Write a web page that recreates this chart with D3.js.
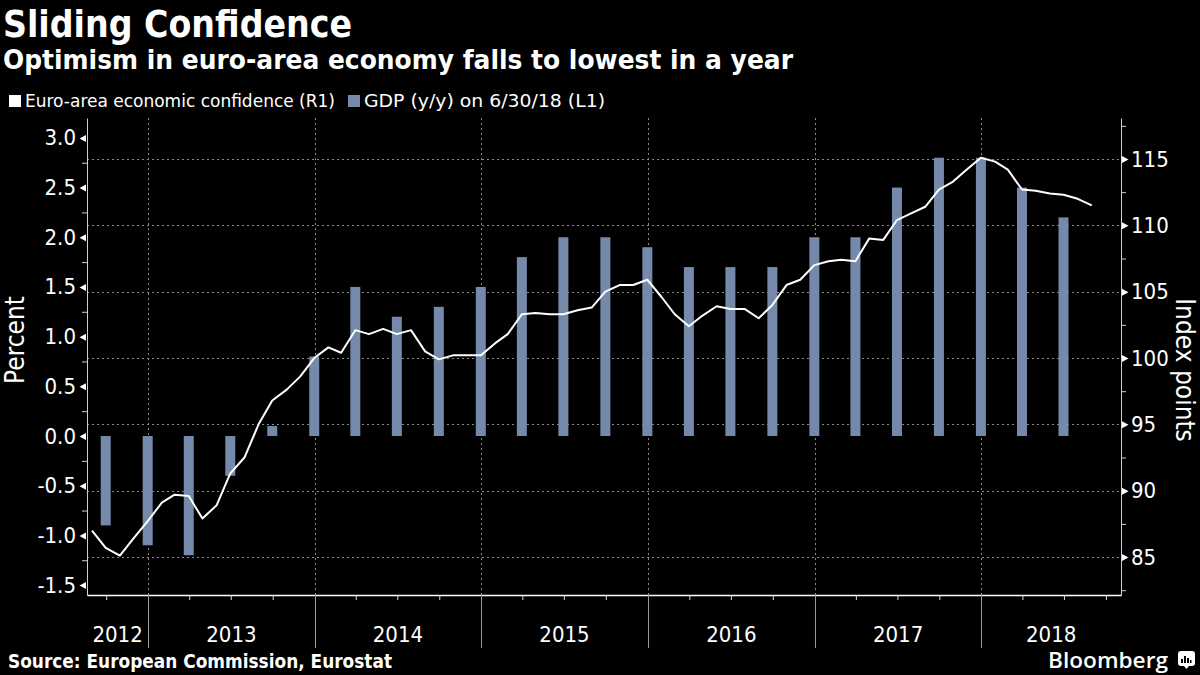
<!DOCTYPE html>
<html><head><meta charset="utf-8">
<script src="https://cdn.jsdelivr.net/npm/d3@7/dist/d3.min.js"></script>
<style>html,body{margin:0;padding:0;background:#000;}svg{display:block;}</style>
</head><body>
<svg id="chart" width="1200" height="675"></svg>
<script>
// ---------------- DATA ----------------
const confMonths = [
 "2012-08","2012-09","2012-10","2012-11","2012-12",
 "2013-01","2013-02","2013-03","2013-04","2013-05","2013-06","2013-07","2013-08","2013-09","2013-10","2013-11","2013-12",
 "2014-01","2014-02","2014-03","2014-04","2014-05","2014-06","2014-07","2014-08","2014-09","2014-10","2014-11","2014-12",
 "2015-01","2015-02","2015-03","2015-04","2015-05","2015-06","2015-07","2015-08","2015-09","2015-10","2015-11","2015-12",
 "2016-01","2016-02","2016-03","2016-04","2016-05","2016-06","2016-07","2016-08","2016-09","2016-10","2016-11","2016-12",
 "2017-01","2017-02","2017-03","2017-04","2017-05","2017-06","2017-07","2017-08","2017-09","2017-10","2017-11","2017-12",
 "2018-01","2018-02","2018-03","2018-04","2018-05","2018-06","2018-07","2018-08"
];
const confValues = [
 87.0, 85.7, 85.1, 86.4, 87.7,
 89.1, 89.7, 89.6, 87.9, 88.9, 91.3, 92.5, 95.0, 96.8, 97.6, 98.6, 100.0,
 100.8, 100.4, 102.1, 101.8, 102.2, 101.8, 102.1, 100.5, 99.9, 100.2, 100.2, 100.2,
 101.1, 101.8, 103.3, 103.4, 103.3, 103.3, 103.6, 103.8, 105.0, 105.5, 105.5, 105.9,
 104.6, 103.3, 102.4, 103.2, 103.9, 103.7, 103.7, 103.0, 104.0, 105.5, 105.9, 107.0,
 107.3, 107.4, 107.3, 109.0, 108.9, 110.4, 110.9, 111.4, 112.7, 113.3, 114.2, 115.1,
 114.8, 114.2, 112.7, 112.6, 112.4, 112.3, 112.0, 111.5
];
const gdpQuarters = [
 "2012-09-30","2012-12-31",
 "2013-03-31","2013-06-30","2013-09-30","2013-12-31",
 "2014-03-31","2014-06-30","2014-09-30","2014-12-31",
 "2015-03-31","2015-06-30","2015-09-30","2015-12-31",
 "2016-03-31","2016-06-30","2016-09-30","2016-12-31",
 "2017-03-31","2017-06-30","2017-09-30","2017-12-31",
 "2018-03-31","2018-06-30"
];
const gdpValues = [
 -0.9, -1.1,
 -1.2, -0.4, 0.1, 0.8,
 1.5, 1.2, 1.3, 1.5,
 1.8, 2.0, 2.0, 1.9,
 1.7, 1.7, 1.7, 2.0,
 2.0, 2.5, 2.8, 2.8,
 2.5, 2.2
];
const leftTicks = [-1.5, -1.0, -0.5, 0.0, 0.5, 1.0, 1.5, 2.0, 2.5, 3.0];
const leftMinorTicks = [-1.25, -0.75, -0.25, 0.25, 0.75, 1.25, 1.75, 2.25, 2.75];
const rightTicks = [85, 90, 95, 100, 105, 110, 115];
const rightMinorTicks = [82.5, 87.5, 92.5, 97.5, 102.5, 107.5, 112.5, 117.5];
const yearLabels = ["2012","2013","2014","2015","2016","2017","2018"];
const xDomain = ["2012-08-20", "2018-11-03"];

const titleText = "Sliding Confidence";
const subtitleText = "Optimism in euro-area economy falls to lowest in a year";
const legendLine = "Euro-area economic confidence (R1)";
const legendBar = "GDP (y/y) on 6/30/18 (L1)";
const leftTitle = "Percent";
const rightTitle = "Index points";
const sourceText = "Source: European Commission, Eurostat";

// ---------------- SETUP ----------------
const FONT = "'Liberation Sans Narrow','DejaVu Sans Condensed','Roboto Condensed','Liberation Sans',sans-serif";
const BAR = "#7589ab";
const svg = d3.select("#chart");
svg.append("rect").attr("width",1200).attr("height",675).attr("fill","#000");

const M = {left: 87, right: 1121, top: 118, bottom: 595};
const parseDay = d3.timeParse("%Y-%m-%d");
const parseMonth = d3.timeParse("%Y-%m");
const monthEnd = s => d3.timeDay.offset(d3.timeMonth.offset(parseMonth(s), 1), -1);

const x = d3.scaleTime().domain(xDomain.map(parseDay)).range([M.left, M.right]);
const yL = d3.scaleLinear().domain([-1.6, 3.2]).range([M.bottom, M.top]);
const yR = d3.scaleLinear().domain([82.14, 118.09]).range([M.bottom, M.top]);

const confData = confMonths.map((m,i)=>({date: monthEnd(m), v: confValues[i]}));
const gdpData = gdpQuarters.map((q,i)=>({date: parseDay(q), v: gdpValues[i]}));
const yearStarts = yearLabels.map(y => new Date(+y, 0, 1));

// ---------------- GRID ----------------
const grid = svg.append("g");
grid.selectAll("line.h").data(rightTicks).join("line")
  .attr("x1", M.left).attr("x2", M.right)
  .attr("y1", d=>Math.round(yR(d))+0.5).attr("y2", d=>Math.round(yR(d))+0.5)
  .attr("stroke","#8a8a8a").attr("stroke-width",1).attr("stroke-dasharray","2,3");
grid.selectAll("line.v").data(yearStarts.slice(1)).join("line")
  .attr("x1", d=>Math.round(x(d))+0.5).attr("x2", d=>Math.round(x(d))+0.5)
  .attr("y1", M.top).attr("y2", M.bottom)
  .attr("stroke","#8a8a8a").attr("stroke-width",1).attr("stroke-dasharray","2,3");

// ---------------- BARS ----------------
const bw = 10;
svg.append("g").selectAll("rect").data(gdpData).join("rect")
  .attr("x", d=>x(d.date)-bw/2).attr("width", bw)
  .attr("y", d=>Math.min(yL(d.v), yL(0)))
  .attr("height", d=>Math.abs(yL(d.v)-yL(0)))
  .attr("fill", BAR);

// ---------------- LINE ----------------
svg.append("path").datum(confData)
  .attr("fill","none").attr("stroke","#fff").attr("stroke-width",2)
  .attr("stroke-linejoin","round")
  .attr("d", d3.line().x(d=>x(d.date)).y(d=>yR(d.v)));

// ---------------- AXES ----------------
// left
const gL = svg.append("g").attr("transform",`translate(${M.left},0)`)
  .call(d3.axisLeft(yL).tickValues(leftTicks).tickSize(0).tickSizeOuter(0).tickPadding(11)
    .tickFormat(v=>v.toFixed(1)));
gL.select(".domain").attr("stroke","#cfcfcf");
gL.selectAll(".tick text").attr("fill","#fff").attr("font-family",FONT).attr("font-size",22);
gL.selectAll(".tick").append("path").attr("d","M-1,-3.5L-1,3.5L-7.5,0Z").attr("fill","#fff");
const gLm = svg.append("g").attr("transform",`translate(${M.left},0)`)
  .call(d3.axisLeft(yL).tickValues(leftMinorTicks).tickSize(5).tickSizeOuter(0).tickFormat(""));
gLm.select(".domain").remove();
gLm.selectAll(".tick line").attr("stroke","#cfcfcf");

// right
const gR = svg.append("g").attr("transform",`translate(${M.right},0)`)
  .call(d3.axisRight(yR).tickValues(rightTicks).tickSize(0).tickSizeOuter(0).tickPadding(10)
    .tickFormat(d3.format("d")));
gR.select(".domain").attr("stroke","#cfcfcf");
gR.selectAll(".tick text").attr("fill","#fff").attr("font-family",FONT).attr("font-size",22);
gR.selectAll(".tick").append("path").attr("d","M1,-3.5L1,3.5L7.5,0Z").attr("fill","#fff");
const gRm = svg.append("g").attr("transform",`translate(${M.right},0)`)
  .call(d3.axisRight(yR).tickValues(rightMinorTicks).tickSize(5).tickSizeOuter(0).tickFormat(""));
gRm.select(".domain").remove();
gRm.selectAll(".tick line").attr("stroke","#cfcfcf");

// bottom
const quarterTicks = d3.timeMonth.every(3).range(x.domain()[0], x.domain()[1]).filter(d=>d.getMonth()!==0);
const gB = svg.append("g").attr("transform",`translate(0,${M.bottom})`)
  .call(d3.axisBottom(x).tickValues(quarterTicks).tickSize(5).tickSizeOuter(0).tickFormat(""));
gB.select(".domain").attr("stroke","#fff").attr("stroke-width",1.5);
gB.selectAll(".tick line").attr("stroke","#ddd");
// year separators
svg.append("g").selectAll("line").data(yearStarts.slice(1)).join("line")
  .attr("x1", d=>Math.round(x(d))+0.5).attr("x2", d=>Math.round(x(d))+0.5)
  .attr("y1", M.bottom).attr("y2", 648)
  .attr("stroke","#9a9a9a").attr("stroke-width",1);
// year labels
svg.append("g").selectAll("text").data(yearLabels).join("text")
  .attr("x", (d,i)=>{
     const a = Math.max(x(new Date(+d,0,1)), M.left);
     const b = Math.min(x(new Date(+d+1,0,1)), M.right);
     return (a+b)/2;
  })
  .attr("y", 642).attr("text-anchor","middle")
  .attr("fill","#fff").attr("font-family",FONT).attr("font-size",22)
  .text(d=>d);

// axis titles
svg.append("text").attr("transform","translate(24,340) rotate(-90)")
  .attr("text-anchor","middle").attr("fill","#fff").attr("font-family",FONT).attr("font-size",26)
  .text(leftTitle);
svg.append("text").attr("transform","translate(1176,370) rotate(90)")
  .attr("text-anchor","middle").attr("fill","#fff").attr("font-family",FONT).attr("font-size",26)
  .text(rightTitle);

// ---------------- TITLES ----------------
function fit(sel, w){ sel.attr("textLength", w).attr("lengthAdjust","spacingAndGlyphs"); return sel; }
fit(svg.append("text").attr("x",3).attr("y",37).attr("fill","#fff")
  .attr("font-family",FONT).attr("font-weight","bold").attr("font-size",38).text(titleText), 349);
fit(svg.append("text").attr("x",3).attr("y",69).attr("fill","#fff")
  .attr("font-family",FONT).attr("font-weight","bold").attr("font-size",26).text(subtitleText), 790);

// legend
svg.append("rect").attr("x",9).attr("y",95).attr("width",12).attr("height",12).attr("fill","#fff");
fit(svg.append("text").attr("x",25).attr("y",107).attr("fill","#fff")
  .attr("font-family",FONT).attr("font-size",18).text(legendLine), 310);
svg.append("rect").attr("x",348).attr("y",95).attr("width",12).attr("height",12).attr("fill",BAR);
fit(svg.append("text").attr("x",364).attr("y",107).attr("fill","#fff")
  .attr("font-family",FONT).attr("font-size",18).text(legendBar), 241);

// footer
fit(svg.append("text").attr("x",8).attr("y",668).attr("fill","#fff")
  .attr("font-family",FONT).attr("font-weight","bold").attr("font-size",19).text(sourceText), 384);
fit(svg.append("text").attr("x",1048).attr("y",668).attr("fill","#fff")
  .attr("font-family","'Open Sans','Liberation Sans',sans-serif").attr("font-weight","600").attr("font-size",22).text("Bloomberg"), 120);
// small logo icon
const logo = svg.append("g").attr("transform","translate(1178,651)");
logo.append("rect").attr("width",17).attr("height",15).attr("rx",3).attr("fill","#fff");
logo.append("path").attr("d","M6,15 L8.5,18 L11,15Z").attr("fill","#fff");
[[4,8,2],[7,5,2],[10,7,2],[13,9,1.5]].forEach(([bx,by,w])=>{
  logo.append("rect").attr("x",bx-1).attr("y",by).attr("width",w).attr("height",12-by).attr("fill","#000");
});
</script>
</body></html>
